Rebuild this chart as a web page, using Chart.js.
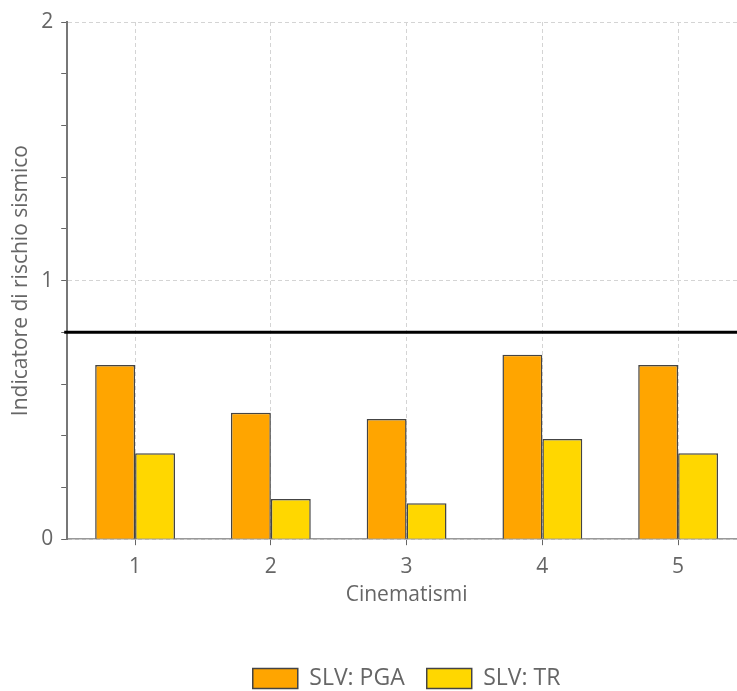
<!DOCTYPE html>
<html>
<head>
<meta charset="utf-8">
<script src="https://cdn.jsdelivr.net/npm/chart.js@4"></script>
<style>
  html, body { margin: 0; padding: 0; background: #fff; overflow: hidden; }
  #wrap { width: 737px; height: 691px; overflow: hidden; }
  #wrap div { width: 750px; height: 700px; position: relative; }
</style>
</head>
<body>
<div id="wrap"><div><canvas id="chart"></canvas></div></div>
<script>
const categories = ["1", "2", "3", "4", "5"];
const pgaValues = [0.674, 0.489, 0.465, 0.713, 0.674];
const trValues = [0.332, 0.155, 0.139, 0.387, 0.332];
const threshold = 0.8;

const FONT = "'Open Sans', sans-serif";
const TEXT = "#666";

const isMajor = v => Math.abs(v - Math.round(v)) < 1e-6;

// black reference line, placed with the y scale
const thresholdLine = {
  id: "thresholdLine",
  afterDatasetsDraw(chart) {
    const y = chart.scales.y.getPixelForValue(threshold);
    const ctx = chart.ctx;
    ctx.save();
    ctx.strokeStyle = "#000";
    ctx.lineWidth = 3;
    ctx.beginPath();
    ctx.moveTo(chart.chartArea.left - 3, y);
    ctx.lineTo(chart.width, y);
    ctx.stroke();
    ctx.restore();
  }
};

new Chart(document.getElementById("chart"), {
  type: "bar",
  data: {
    labels: categories,
    datasets: [{
      label: "SLV: PGA",
      data: pgaValues,
      backgroundColor: "#FFA500",
      borderColor: "#444",
      borderWidth: 1.5
    }, {
      label: "SLV: TR",
      data: trValues,
      backgroundColor: "#FFD700",
      borderColor: "#444",
      borderWidth: 1.5
    }]
  },
  options: {
    responsive: true,
    maintainAspectRatio: false,
    animation: false,
    layout: { padding: { top: 22, left: 0, right: 4, bottom: 0 } },
    datasets: { bar: { categoryPercentage: 0.588, barPercentage: 1 } },
    plugins: {
      tooltip: { enabled: false },
      legend: {
        position: "bottom",
        fullSize: false,
        labels: {
          boxWidth: 45, boxHeight: 20, padding: 22,
          color: TEXT, font: { family: FONT, size: 23 }
        }
      }
    },
    scales: {
      x: {
        grid: {
          offset: false, color: "#d4d4d4", lineWidth: 1,
          tickColor: "#666", tickLength: 6
        },
        border: { color: "#999", width: 1.5, dash: [4, 3] },
        ticks: {
          color: TEXT, padding: 19,
          font: { family: FONT, size: 21, lineHeight: 0.3 }
        },
        title: {
          display: true, text: "Cinematismi", color: TEXT,
          font: { family: FONT, size: 21, lineHeight: 0.5 },
          padding: { top: 0, bottom: 45 }
        }
      },
      y: {
        min: 0, max: 2,
        grid: {
          color: c => isMajor(c.tick.value) ? "#d4d4d4" : "rgba(0,0,0,0)",
          tickColor: "#666", tickLength: 6
        },
        border: { color: "#777", width: 2, dash: [4, 3] },
        ticks: {
          stepSize: 0.2, color: TEXT, padding: 8,
          font: { family: FONT, size: 21 },
          callback: v => isMajor(v) ? Math.round(v) : ""
        },
        title: {
          display: true, text: "Indicatore di rischio sismico", color: TEXT,
          font: { family: FONT, size: 21 }, padding: { top: 8, bottom: 0 }
        }
      }
    }
  },
  plugins: [thresholdLine]
});
</script>
</body>
</html>
